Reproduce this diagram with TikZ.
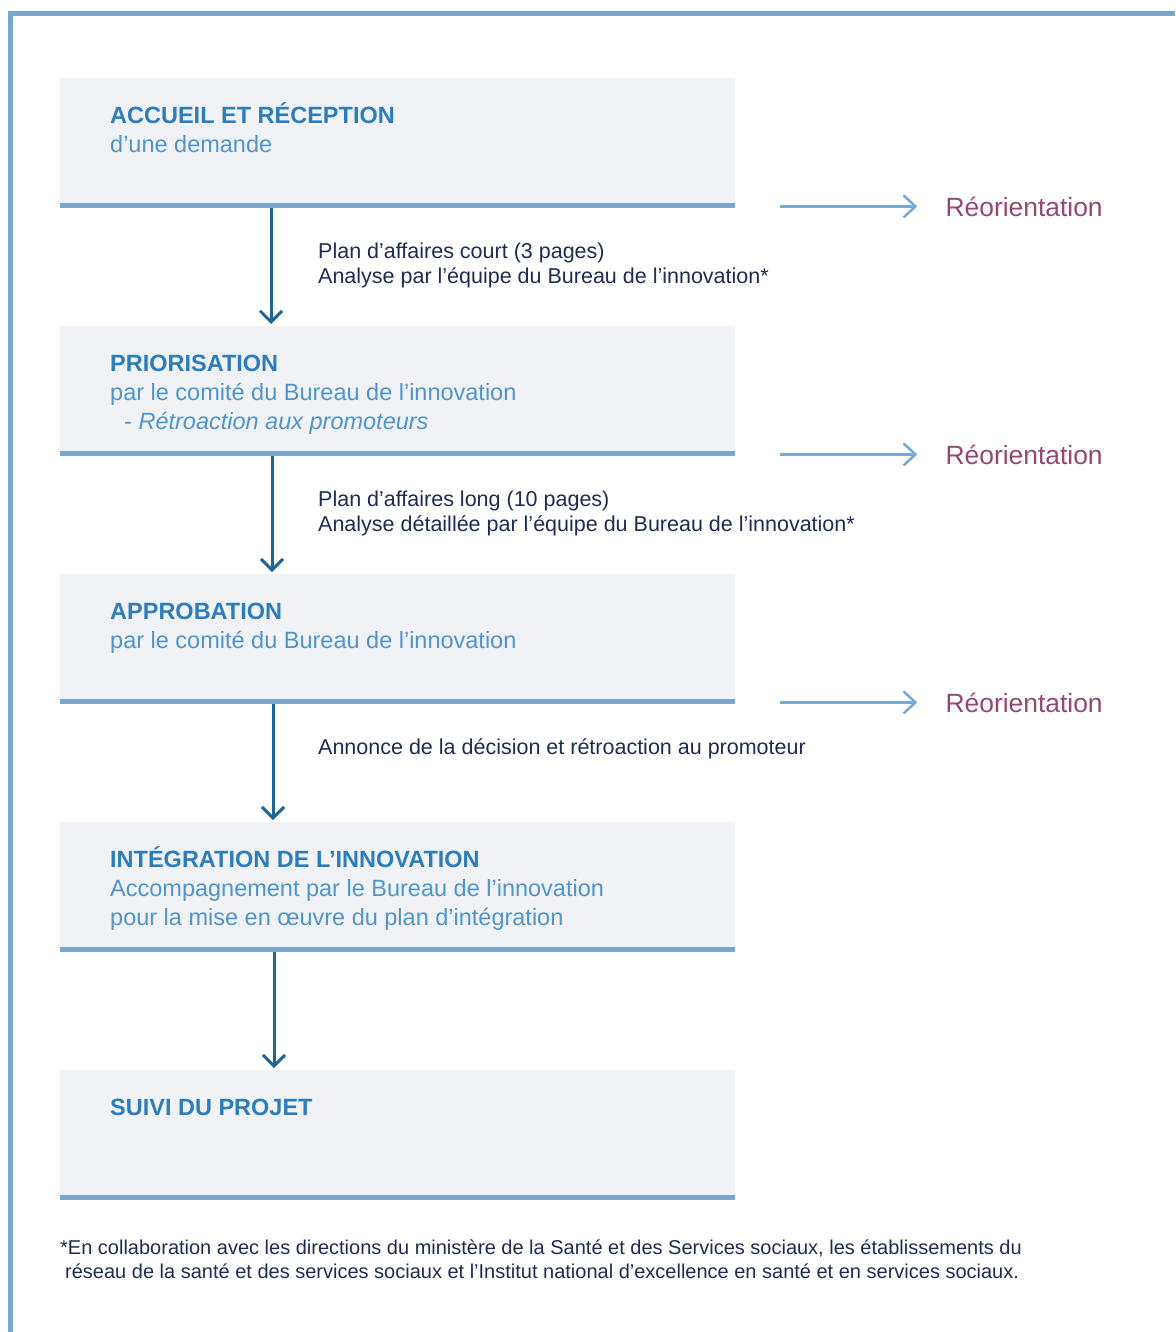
\documentclass[tikz,border=0pt]{standalone}
\usepackage{fontspec}
\setmainfont{Liberation Sans}
\usetikzlibrary{arrows.meta,calc}
\definecolor{framecol}{HTML}{78A8D0}
\definecolor{boxfill}{HTML}{F0F2F6}
\definecolor{barcol}{HTML}{78A8D0}
\definecolor{titleblue}{HTML}{2C7DBA}
\definecolor{bodyblue}{HTML}{5095CA}
\definecolor{downcol}{HTML}{1D6696}
\definecolor{reocol}{HTML}{78AAD5}
\definecolor{reotextcol}{HTML}{954770}
\definecolor{navy}{HTML}{1F2B52}
\tikzset{
  box/.style={anchor=north west, fill=boxfill, draw=none, inner sep=0,
    minimum width=675pt, minimum height=127pt},
  bar/.style={draw=barcol, line width=5pt},
  boxtext/.style={anchor=north west, inner sep=0, align=left, text=bodyblue,
    font=\fontsize{23.5}{29}\selectfont},
  lbl/.style={anchor=north west, inner sep=0, align=left, text=navy,
    font=\fontsize{21.5}{25}\selectfont},
  reotext/.style={anchor=base west, inner sep=0, text=reotextcol,
    font=\fontsize{26.4}{30}\selectfont},
  foot/.style={anchor=north west, inner sep=0, align=left, text=navy,
    font=\fontsize{20}{24.5}\selectfont},
  down/.style={draw=downcol, line width=3pt, shorten <=2.5pt, shorten >=2pt,
    -{Straight Barb[length=11pt,width=22pt]}},
  reo/.style={draw=reocol, line width=2.5pt, shorten >=28pt,
    -{Straight Barb[length=12pt,width=22pt]}}
}
\newcommand{\ttl}[1]{\textcolor{titleblue}{\bfseries #1}}
\begin{document}
\begin{tikzpicture}[x=1pt,y=-1pt]
\useasboundingbox (0,0) rectangle (1175,1332);
% frame
\draw[framecol, line width=5pt] (10,1332) -- (10,14) -- (1175,14);
% boxes
\node[box] (b1) at (60,78) {};
\node[box] (b2) at (60,326) {};
\node[box] (b3) at (60,574) {};
\node[box] (b4) at (60,822) {};
\node[box] (b5) at (60,1070) {};
% box texts
\node[boxtext] (t1) at ($(b1.north west)+(50,21)$) {\rule{0pt}{24pt}\ttl{ACCUEIL ET RÉCEPTION}\\d’une demande};
\node[boxtext] (t2) at ($(b2.north west)+(50,21)$) {\rule{0pt}{24pt}\ttl{PRIORISATION}\\par le comité du Bureau de l’innovation\\\hspace*{14pt}- \textit{Rétroaction aux promoteurs}};
\node[boxtext] (t3) at ($(b3.north west)+(50,21)$) {\rule{0pt}{24pt}\ttl{APPROBATION}\\par le comité du Bureau de l’innovation};
\node[boxtext] (t4) at ($(b4.north west)+(50,21)$) {\rule{0pt}{24pt}\ttl{INTÉGRATION DE L’INNOVATION}\\Accompagnement par le Bureau de l’innovation\\pour la mise en œuvre du plan d’intégration};
\node[boxtext] (t5) at ($(b5.north west)+(50,21)$) {\rule{0pt}{24pt}\ttl{SUIVI DU PROJET}};
% down arrows
\draw[down] ([xshift=211pt]b1.south west) -- ([xshift=211pt]b2.north west);
\draw[down] ([xshift=212pt]b2.south west) -- ([xshift=212pt]b3.north west);
\draw[down] ([xshift=213pt]b3.south west) -- ([xshift=213pt]b4.north west);
\draw[down] ([xshift=214pt]b4.south west) -- ([xshift=214pt]b5.north west);
% bars
\foreach \b in {b1,b2,b3,b4,b5}{\draw[bar] (\b.south west) -- (\b.south east);}
% labels
\node[lbl] (l1) at ($(b1.south west)+(258,35)$) {\rule{0pt}{18pt}Plan d’affaires court (3 pages)\\Analyse par l’équipe du Bureau de l’innovation*};
\node[lbl] (l2) at ($(b2.south west)+(258,35)$) {\rule{0pt}{18pt}Plan d’affaires long (10 pages)\\Analyse détaillée par l’équipe du Bureau de l’innovation*};
\node[lbl] (l3) at ($(b3.south west)+(258,35)$) {\rule{0pt}{18pt}Annonce de la décision et rétroaction au promoteur};
% reorientation
\foreach \i/\b in {1/b1,2/b2,3/b3}{
  \node[reotext] (o\i) at ($(\b.south east)+(210,11)$) {Réorientation};
  \coordinate (s\i) at ($(\b.south east)+(45,1)$);
  \draw[reo] (s\i) -- (s\i -| o\i.west);
}
% footnote
\node[foot] (fn) at (60,1239) {\rule{0pt}{15pt}*En collaboration avec les directions du ministère de la Santé et des Services sociaux, les établissements du\\\hspace*{5pt}réseau de la santé et des services sociaux et l’Institut national d’excellence en santé et en services sociaux.};
\end{tikzpicture}
\end{document}
